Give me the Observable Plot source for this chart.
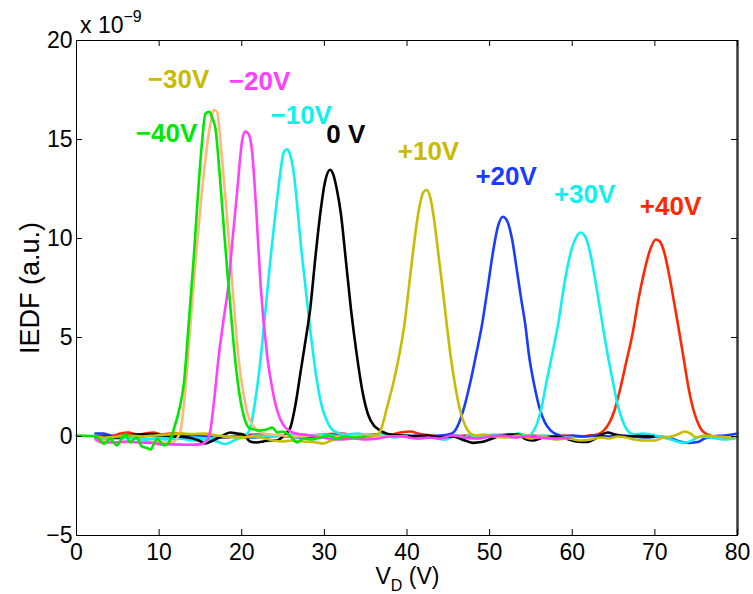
<!DOCTYPE html>
<html><head><meta charset="utf-8">
<script src="https://cdn.jsdelivr.net/npm/d3@7"></script>
<script src="https://cdn.jsdelivr.net/npm/@observablehq/plot@0.6"></script>
<style>body{margin:0;background:#fff}</style>
</head><body><div id="chart"></div>
<script>
// Tick values (IEDF in units of 1e-9)
const xTicks = [0, 10, 20, 30, 40, 50, 60, 70, 80];
const yTicks = [-5, 0, 5, 10, 15, 20];

// Series: [V_D (V), IEDF (x1e-9 a.u.)]
const sNeg40 = [[0,0.05],[1.2,0.03],[2.3,0.02],[2.8,-0.15],[3.3,-0.37],[3.7,-0.25],[4.1,-0.1],[4.5,-0.3],[4.9,-0.45],[5.4,-0.15],[5.9,0.1],[6.5,-0.3],[6.9,-0.15],[7.3,-0.05],[7.9,-0.5],[8.5,-0.58],[9.0,-0.65],[9.4,-0.35],[9.8,-0.12],[10.2,-0.3],[10.6,-0.45],[11.1,-0.35],[11.5,0.0],[11.8,0.4],[12.4,1.3],[13.0,2.7],[13.6,5.8],[14.2,9.1],[14.7,12.2],[15.2,14.9],[15.6,16.3],[16.1,16.4],[16.5,16.0],[16.8,15.6],[17.3,13.4],[17.8,10.7],[18.3,8.1],[18.8,5.7],[19.3,3.5],[19.85,1.8],[20.3,0.95],[20.85,0.45],[21.5,0.35],[22.2,0.3],[23,0.35],[23.7,0.45],[24.3,0.2],[25,0.25],[25.8,0.05],[26.7,-0.3],[27.5,-0.1],[28.5,-0.15],[29.5,-0.05],[30.5,0.05],[31.5,-0.1],[32.5,0.0],[33.5,-0.05],[35,0.0]];
const sNeg30 = [[2.3,-0.2],[3.5,-0.25],[5,-0.3],[6.5,-0.28],[8,-0.3],[9.5,-0.27],[11,-0.3],[11.8,-0.25],[12.3,0.0],[12.6,0.3],[13.2,2.5],[13.8,5.7],[14.4,8.8],[15.0,11.6],[15.6,14.0],[16.2,15.8],[16.6,16.5],[17.0,16.4],[17.6,14.1],[18.1,11.7],[18.6,9.06],[19.1,6.4],[19.6,4.0],[20.2,2.2],[20.7,1.15],[21.5,0.47],[22.3,0.2],[23.5,0.1],[25,0.05],[27,0.0],[29,0.05],[31,-0.05],[33,0.0],[35,0.05],[37,0.0],[40,0.0]];
const sNeg20 = [[2.3,-0.1],[3,-0.3],[4.5,-0.3],[6,-0.25],[7.5,-0.3],[9,-0.32],[10.5,-0.4],[12,-0.4],[13.5,-0.42],[15,-0.4],[15.8,-0.2],[16.2,0.3],[16.7,2.0],[17.2,4.0],[17.8,5.9],[18.4,7.7],[18.9,10.0],[19.45,12.4],[20.05,14.95],[20.4,15.4],[20.8,15.3],[21.25,14.4],[21.8,11.1],[22.27,7.7],[23.1,4.0],[23.7,2.4],[24.3,1.3],[25,0.6],[25.7,0.3],[26.5,0.15],[27.5,0.1],[29,0.0],[30.5,-0.1],[32,-0.15],[33.5,-0.1],[35,-0.15],[36.5,-0.1],[38,0.0],[39.5,0.0],[41,-0.1],[42.5,-0.05],[44,-0.1],[45.5,0.05],[47,-0.05],[48.5,-0.1],[50,0.0],[51.5,0.05],[53,-0.05],[54.5,0.0],[56,-0.05],[57.5,-0.1],[59.8,-0.05]];
const sNeg10 = [[2.3,-0.05],[3.5,0.0],[5,-0.1],[6.5,-0.05],[8,-0.15],[9.5,-0.1],[11,-0.15],[12.5,-0.1],[14,-0.2],[15.5,-0.15],[16.5,-0.2],[17.3,-0.3],[17.9,-0.38],[18.6,-0.3],[19.3,-0.15],[20,-0.05],[20.6,0.1],[21.05,0.47],[21.7,2.0],[22.3,4.0],[22.9,6.5],[23.5,9.06],[24.0,11.0],[24.5,12.76],[25.1,14.36],[25.5,14.5],[25.8,14.3],[26.3,13.3],[26.7,11.7],[27.1,9.9],[27.7,7.6],[28.3,5.35],[29.1,2.8],[29.7,1.5],[30.2,0.9],[30.7,0.47],[31.5,0.2],[32.5,0.1],[34,0.15],[35.5,0.05],[37,0.1],[38.5,-0.05],[40,0.05],[41.5,-0.1],[43,0.0],[44.5,-0.15],[46,0.05],[47.5,-0.1],[49,0.0],[50.5,0.1],[52,0.0],[53.5,0.15],[55,-0.05],[56.5,0.05],[58,0.0],[60,-0.05]];
const s0 = [[2.3,-0.05],[3.5,0.0],[5,-0.05],[6,0.05],[7.5,0.1],[9,0.12],[10.5,0.05],[12,0.0],[13.5,-0.05],[14.8,-0.2],[15.6,-0.35],[16.5,-0.2],[17.5,0.0],[18.6,0.2],[19.4,0.15],[20.2,0.1],[21,-0.25],[21.8,-0.3],[22.6,-0.25],[23.3,-0.2],[24.2,-0.2],[25,0.0],[25.5,0.2],[25.9,0.47],[26.5,1.6],[27.1,3.2],[27.7,4.8],[28.3,6.5],[28.9,9.0],[29.5,11.25],[30.1,12.9],[30.7,13.47],[31.1,13.2],[31.5,12.5],[32.0,11.25],[32.6,8.9],[33.2,6.5],[33.9,4.2],[34.6,2.3],[35.3,1.1],[36.0,0.55],[36.4,0.4],[37.2,0.2],[38,0.1],[39.5,0.05],[41,0.0],[42.5,0.05],[44,-0.05],[45.5,0.0],[47,-0.2],[48,-0.32],[49,-0.28],[50,-0.15],[51,0.0],[52.2,0.1],[53.4,0.1],[54.5,-0.15],[55.2,-0.2],[56.5,-0.05],[58,0.0],[59.2,-0.1],[60.5,-0.25],[61.8,-0.28],[62.8,-0.1],[63.6,0.1],[64.3,0.2],[65.2,0.1],[66.5,0.0],[68,0.02],[69.8,0.0]];
const sPos10 = [[2.3,0.0],[3.5,-0.05],[5,0.0],[6.5,0.05],[8,0.0],[9.5,0.05],[11,0.1],[12.6,0.15],[14,0.12],[15.4,0.15],[17,0.05],[18.5,0.0],[20,-0.05],[21.5,0.0],[22.8,-0.1],[23.8,-0.2],[25,-0.25],[26,-0.2],[27.5,-0.25],[29,-0.3],[29.9,-0.35],[30.8,-0.2],[32,-0.1],[33.5,-0.05],[35,0.0],[36.2,0.05],[36.8,0.3],[37.6,1.5],[38.4,2.8],[39.1,4.2],[39.7,5.7],[40.3,7.8],[40.9,9.9],[41.5,11.6],[42.0,12.35],[42.4,12.45],[42.8,12.1],[43.3,10.9],[43.8,9.2],[44.3,7.5],[44.8,5.7],[45.3,4.0],[45.9,2.4],[46.5,1.2],[47.1,0.5],[47.7,0.15],[48.3,0.05],[49.3,0.1],[50.5,0.0],[52,-0.05],[53.5,0.05],[55,-0.1],[56.5,0.0],[58,-0.15],[59.5,-0.1],[61,-0.2],[62.3,-0.15],[63.4,-0.05],[64.5,-0.1],[65.5,0.0],[66.5,-0.05],[67.5,-0.15],[68.5,-0.2],[70,-0.2],[71,-0.05],[72,0.0],[73,0.15],[73.6,0.25],[74.3,0.15],[75,-0.05],[76,0.05],[77.5,0.0],[79,-0.05],[80,0.0]];
const sPos20 = [[2.3,0.15],[3.3,0.15],[4.5,0.0],[6,0.05],[7.5,0.0],[9,0.05],[10.5,-0.05],[12,0.0],[13.5,0.05],[15,0.0],[17,-0.05],[19,0.0],[21,-0.05],[23,0.0],[25,0.05],[27,-0.05],[29,0.0],[31,0.05],[33,-0.05],[35,0.0],[37,0.05],[39,0.0],[41,0.05],[42.5,0.0],[44,0.05],[45,0.1],[45.6,0.2],[46.3,0.7],[47.0,1.6],[47.7,2.8],[48.4,4.2],[49.1,5.7],[49.8,7.6],[50.4,9.3],[51.0,10.6],[51.6,11.1],[52.1,10.9],[52.7,10.0],[53.3,8.4],[53.8,7.0],[54.3,5.7],[54.8,4.0],[55.4,2.6],[56.0,1.5],[56.7,0.7],[57.4,0.3],[58.2,0.1],[59,0.0],[60,0.05],[61.5,0.0],[63,0.05],[64.5,0.0],[66,0.05],[67.5,0.0],[69,-0.05],[70.5,0.0],[72,-0.1],[73,-0.25],[74.2,-0.32],[75.2,-0.28],[76,-0.1],[77,0.0],[78.5,0.05],[80,0.15]];
const sPos30 = [[2.3,-0.1],[3.8,-0.15],[5.3,-0.05],[6.8,-0.1],[8.3,-0.15],[9.8,-0.1],[11.3,-0.05],[12.8,-0.1],[14.3,-0.05],[16,-0.1],[18,0.0],[20,-0.05],[22,0.05],[24,0.0],[26,0.1],[28,0.05],[30,0.1],[32,0.0],[34,0.1],[36,0.05],[38,0.0],[40,0.05],[41.5,-0.1],[43,-0.05],[44.5,-0.15],[46,0.05],[46.8,-0.2],[47.5,0.1],[48.5,-0.1],[50,0.0],[51.5,0.1],[52.8,-0.05],[53.5,0.15],[54.2,-0.1],[55.0,0.1],[55.7,0.6],[56.3,1.5],[56.9,2.8],[57.6,4.2],[58.3,5.7],[59.0,7.6],[59.7,9.1],[60.4,10.0],[61.0,10.3],[61.5,10.15],[62.1,9.4],[62.7,8.1],[63.3,6.6],[63.8,5.3],[64.3,4.1],[64.9,2.8],[65.5,1.6],[66.1,0.8],[66.7,0.3],[67.5,0.1],[68.5,0.15],[69.5,0.1],[70.5,0.0],[71.5,-0.1],[72.3,-0.2],[73.2,-0.3],[73.8,-0.3],[74.5,-0.2],[75.5,0.0],[76.5,-0.05],[77.5,-0.1],[78.5,-0.15],[80,-0.05]];
const sPos40 = [[2.3,0.0],[3.5,0.05],[4.5,0.05],[5.3,0.15],[6.3,0.2],[7.3,0.1],[8.3,0.15],[9.3,0.2],[10.3,0.1],[11.3,0.15],[12.4,0.15],[14,0.05],[16,0.0],[18,-0.05],[20,0.05],[22,0.1],[24,0.05],[26,0.0],[28,0.05],[30,0.1],[32,0.15],[34,0.05],[36,0.1],[38,0.1],[39.2,0.2],[40.5,0.25],[41.3,0.15],[43,0.05],[45,0.0],[47,0.05],[49,0.0],[51,0.05],[53,0.0],[55,0.05],[57,0.0],[59,0.05],[61,0.0],[62,0.05],[63.0,0.1],[63.8,0.3],[64.5,0.7],[65.1,1.3],[65.8,2.4],[66.5,3.7],[67.3,5.2],[68.0,6.9],[68.7,8.3],[69.4,9.4],[70.1,9.95],[70.6,9.85],[71.2,9.2],[71.8,8.0],[72.4,6.6],[72.9,5.4],[73.5,3.9],[74.1,2.4],[74.7,1.3],[75.2,0.7],[75.7,0.3],[76.4,0.1],[77,0.0],[78,-0.05],[79,-0.1],[80,-0.05]];

// Drawing order (last on top) and colours
const seriesData   = [sPos40, sPos20, sPos30, sNeg10, s0, sNeg30, sPos10, sNeg20, sNeg40];
const seriesColors = ["#ff2800", "#1a3cff", "#10f0f0", "#10f0f0", "#000000", "#ffb878", "#c8bc00", "#ff40ff", "#00e800"];

// Peak annotations
const labelText  = ["\u221240V", "\u221230V", "\u221220V", "\u221210V", "0 V", "+10V", "+20V", "+30V", "+40V"];
const labelX     = [10.9, 12.35, 22.15, 27.2, 32.6, 42.6, 52.0, 61.5, 71.9];
const labelY     = [15.3, 18.0, 17.9, 16.2, 15.25, 14.4, 13.1, 12.2, 11.6];
const labelColor = ["#00e800", "#c8bc00", "#ff40ff", "#10f0f0", "#000000", "#c8bc00", "#1a3cff", "#10f0f0", "#ff2800"];

const W = 753, H = 594, mL = 76, mR = 16, mT = 40, mB = 59;
const plotW = W - mL - mR, plotH = H - mT - mB;
const font = "'Liberation Sans', Arial, Helvetica, sans-serif";

const labels = labelText.map((t, i) => ({t, x: labelX[i], y: labelY[i], c: labelColor[i]}));

const marks = [];
seriesData.forEach((pts, i) => {
  marks.push(Plot.line(pts, {x: d => d[0], y: d => d[1], stroke: seriesColors[i], strokeWidth: 2.6, curve: "monotone-x"}));
});
marks.push(
  Plot.text(labels, {x: "x", y: "y", text: "t", fill: "c", fontSize: 26, fontWeight: "bold", fontFamily: font}),
  Plot.frame({stroke: "#000", strokeWidth: 1}),
  Plot.ruleX([80], {stroke: "#3a3a3a", strokeWidth: 2.5}),
  Plot.tickX(xTicks, {x: d => d, insetTop: plotH - 6, stroke: "#000"}),
  Plot.tickX(xTicks, {x: d => d, insetBottom: plotH - 6, stroke: "#000"}),
  Plot.tickY(yTicks, {y: d => d, insetRight: plotW - 6, stroke: "#000"}),
  Plot.tickY(yTicks, {y: d => d, insetLeft: plotW - 6, stroke: "#000"}),
  Plot.axisX({ticks: xTicks, tickSize: 0, tickPadding: 8, fontSize: 23, label: null}),
  Plot.axisY({ticks: yTicks, tickSize: 0, tickPadding: 4, fontSize: 23, label: null}),
  Plot.text(["IEDF (a.u.)"], {frameAnchor: "left", rotate: -90, dx: -46, textAnchor: "middle", fontSize: 27, fontFamily: font, fill: "#000"})
);

const chart = Plot.plot({
  width: W, height: H,
  marginLeft: mL, marginRight: mR, marginTop: mT, marginBottom: mB,
  x: {domain: [0, 80]},
  y: {domain: [-5, 20]},
  style: {fontFamily: font, background: "#fff", color: "#000", overflow: "visible"},
  marks
});
document.getElementById("chart").appendChild(chart);

// Exponent and x-axis label with sub/superscripts
const svg = d3.select(chart);
const ex = svg.append("text").attr("x", 80).attr("y", 33).attr("text-anchor", "start")
  .attr("font-family", font).attr("font-size", 23).attr("fill", "#000");
ex.append("tspan").text("x 10");
ex.append("tspan").attr("dy", -11).attr("font-size", 16).text("\u22129");

const xl = svg.append("text").attr("x", mL + plotW / 2 + 1).attr("y", 584).attr("text-anchor", "middle")
  .attr("font-family", font).attr("font-size", 23).attr("fill", "#000");
xl.append("tspan").text("V");
xl.append("tspan").attr("dy", 7).attr("font-size", 16).text("D");
xl.append("tspan").attr("dy", -7).text(" (V)");
</script>
</body></html>
